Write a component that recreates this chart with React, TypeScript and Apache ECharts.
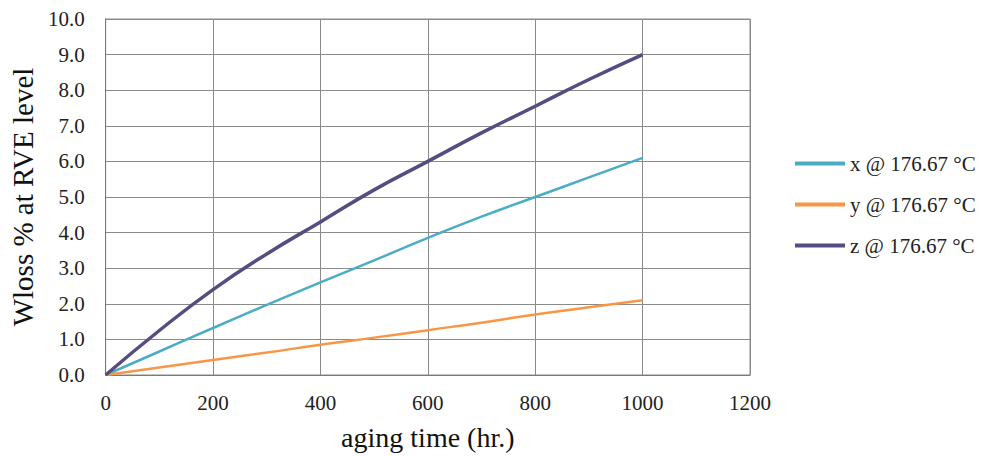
import React, { useEffect, useRef } from "react";
import * as echarts from "echarts";

// Aging time (hr.)
const agingHours = [0, 100, 200, 300, 400, 500, 600, 700, 800, 900, 1000];
// Weight loss % at RVE level, per direction
const xLoss = [0, 0.66, 1.32, 1.97, 2.6, 3.22, 3.85, 4.45, 5.0, 5.55, 6.1];
const yLoss = [0, 0.21, 0.42, 0.63, 0.85, 1.05, 1.26, 1.47, 1.7, 1.9, 2.1];
const zLoss = [0, 1.25, 2.4, 3.4, 4.3, 5.2, 6.0, 6.8, 7.55, 8.3, 9.0];

const seriesNames = ["x @ 176.67 °C", "y @ 176.67 °C", "z @ 176.67 °C"];
const seriesColors = ["#4BACC6", "#F79646", "#574C82"];
const seriesWidths = [2.5, 2.5, 3.5];

const FONT = "Liberation Serif";

export default function App() {
  const ref = useRef<HTMLDivElement>(null);

  useEffect(() => {
    document.body.style.margin = "0";
    if (!ref.current) return;
    const chart = echarts.init(ref.current, undefined, { renderer: "svg" });
    const values = [xLoss, yLoss, zLoss];
    chart.setOption({
      animation: false,
      backgroundColor: "#ffffff",
      textStyle: { fontFamily: FONT },
      grid: { left: 103.5, right: 238, top: 19, bottom: 81, show: true, borderColor: "#8a8a8a", borderWidth: 1 },
      legend: {
        orient: "vertical",
        left: 795,
        top: 153,
        padding: 0,
        icon: "rect",
        itemWidth: 50,
        itemHeight: 4,
        itemGap: 20,
        textStyle: { fontFamily: FONT, fontSize: 21, color: "#222" },
        data: seriesNames,
      },
      xAxis: {
        type: "value",
        min: 0,
        max: 1200,
        interval: 200,
        name: "aging time (hr.)",
        nameLocation: "middle",
        nameGap: 48,
        nameTextStyle: { fontFamily: FONT, fontSize: 28, color: "#111" },
        axisLine: { lineStyle: { color: "#7a7a7a", width: 1 } },
        axisTick: { show: false },
        axisLabel: {
          fontFamily: FONT,
          fontSize: 21,
          color: "#222",
          margin: 17,
          formatter: (v: number) => String(v),
        },
        splitLine: { show: true, lineStyle: { color: "#8a8a8a", width: 1 } },
      },
      yAxis: {
        type: "value",
        min: 0,
        max: 10,
        interval: 1,
        name: "Wloss % at RVE level",
        nameLocation: "middle",
        nameGap: 68,
        nameTextStyle: { fontFamily: FONT, fontSize: 29, color: "#111" },
        axisLine: { show: true, lineStyle: { color: "#7a7a7a", width: 1 } },
        axisTick: { show: false },
        axisLabel: {
          fontFamily: FONT,
          fontSize: 21,
          color: "#222",
          margin: 21,
          formatter: (v: number) => v.toFixed(1),
        },
        splitLine: { show: true, lineStyle: { color: "#8a8a8a", width: 1 } },
      },
      series: seriesNames.map((name, i) => ({
        name,
        type: "line",
        smooth: true,
        symbol: "none",
        showSymbol: false,
        data: agingHours.map((h, k) => [h, values[i][k]]),
        lineStyle: { color: seriesColors[i], width: seriesWidths[i] },
        itemStyle: { color: seriesColors[i] },
      })),
    });
    return () => chart.dispose();
  }, []);

  return <div ref={ref} style={{ width: 988, height: 456 }} />;
}
